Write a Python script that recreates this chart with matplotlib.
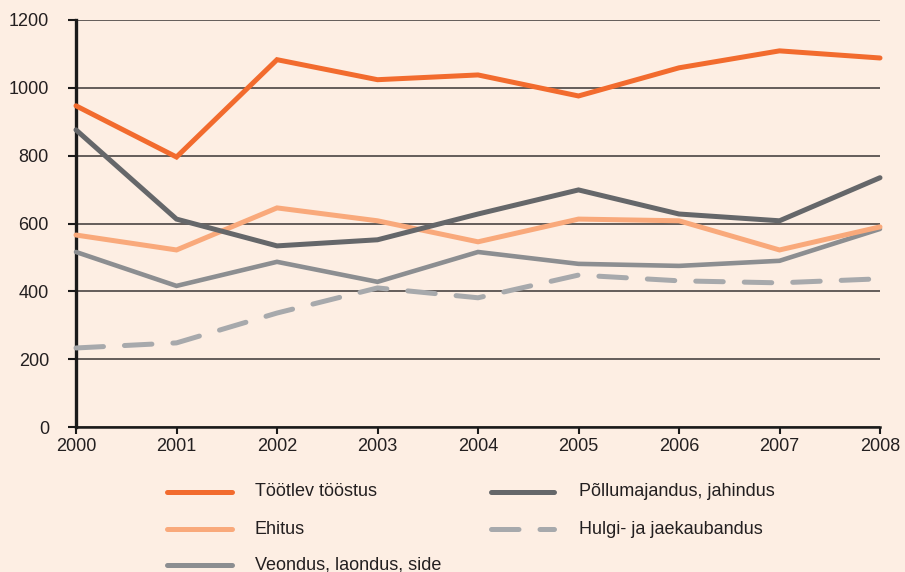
import matplotlib
matplotlib.use("Agg")
import matplotlib.pyplot as plt
from matplotlib.lines import Line2D

years = [2000, 2001, 2002, 2003, 2004, 2005, 2006, 2007, 2008]
tootlev = [947, 796, 1083, 1024, 1038, 976, 1059, 1109, 1088]
pollu = [876, 613, 534, 552, 628, 699, 628, 608, 735]
ehitus = [566, 522, 646, 608, 546, 613, 608, 522, 590]
veondus = [516, 416, 487, 428, 516, 481, 475, 490, 584]
hulgi = [233, 248, 336, 410, 381, 448, 431, 425, 437]
yticks = [0, 200, 400, 600, 800, 1000, 1200]

labels = ["Töötlev tööstus", "Põllumajandus, jahindus", "Ehitus",
          "Hulgi- ja jaekaubandus", "Veondus, laondus, side"]
colors = ["#F26B2E", "#65676A", "#F9A97B", "#A7A9AC", "#8C8E91"]

plt.rcParams['font.family'] = ['Liberation Sans', 'DejaVu Sans']
bg = "#FDEEE3"
txt = "#231F20"
dash = (0, (5.5, 4.2))

fig = plt.figure(figsize=(9.05, 5.72), dpi=100, facecolor=bg)
ax = fig.add_axes([76/905, 1-427/572, (880-76)/905, (427-20)/572])
ax.set_facecolor(bg)

ax.set_xlim(2000, 2008)
ax.set_ylim(0, 1200)
ax.set_yticks(yticks)
ax.set_xticks(years)
ax.grid(axis='y', color="#3A3535", linewidth=1.1)
ax.set_axisbelow(True)
for s in ['top', 'right']:
    ax.spines[s].set_visible(False)
ax.spines['left'].set_linewidth(2.4)
ax.spines['left'].set_color("#1A1A1A")
ax.spines['bottom'].set_linewidth(1.8)
ax.spines['bottom'].set_color("#1A1A1A")
ax.tick_params(axis='y', length=6, width=1.5, color="#1A1A1A", pad=13.5,
               labelsize=13, labelcolor=txt)
ax.tick_params(axis='x', length=5, width=1.5, color="#1A1A1A", pad=3,
               labelsize=13, labelcolor=txt)

series = [tootlev, pollu, ehitus, hulgi, veondus]
order = [4, 3, 2, 1, 0]
for i in order:
    kw = dict(color=colors[i], linewidth=3.6, solid_capstyle='round',
              solid_joinstyle='miter', clip_on=False, zorder=3 + (5 - i))
    if i == 3:
        ax.plot(years, series[i], linestyle=dash, dash_capstyle='round', **kw)
    else:
        if i == 4:
            kw['linewidth'] = 3.3
        ax.plot(years, series[i], **kw)

# manual legend (two columns whose texts overlap horizontally)
rows = [492, 529, 565]
cols = [(167, 232, 255), (491, 554, 579)]
positions = [(0, 0), (1, 0), (0, 1), (1, 1), (0, 2)]
for i, (c, r) in enumerate(positions):
    x0, x1, xt = cols[c]
    y = 1 - rows[r] / 572
    ls = dash if i == 3 else '-'
    ln = Line2D([x0/905, x1/905], [y, y], transform=fig.transFigure,
                color=colors[i], linewidth=3.6, solid_capstyle='round',
                dash_capstyle='round', linestyle=ls)
    fig.add_artist(ln)
    fig.text(xt/905, y, labels[i], ha='left', va='center', fontsize=13,
             color=txt)

fig.savefig("out.png", dpi=100, facecolor=bg)
